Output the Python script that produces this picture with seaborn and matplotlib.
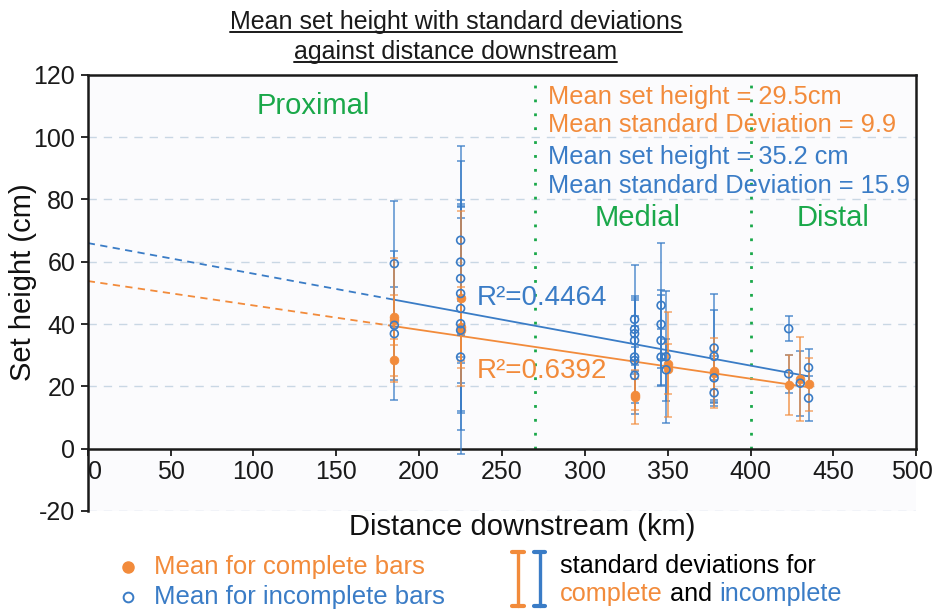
import numpy as np
import pandas as pd
import matplotlib
matplotlib.use('Agg')
import matplotlib.pyplot as plt
import matplotlib.transforms as mtransforms
from matplotlib.lines import Line2D
import seaborn as sns

# Means for complete bars (orange) with standard deviations
complete_km = [185, 185, 185, 225, 225, 225, 330, 330, 350, 350, 378, 378, 423, 430, 435]
complete_mean = [42.3, 41.2, 28.3, 48.2, 39.0, 38.0, 16.5, 17.3, 27.0, 25.5, 24.3, 25.0, 20.3, 22.4, 20.6]
complete_sd = [19.0, 8.0, 7.0, 28.0, 13.0, 10.0, 8.6, 5.0, 16.9, 8.0, 11.3, 6.0, 9.6, 13.5, 8.5]

# Means for incomplete bars (blue) with standard deviations
incomplete_km = [185, 185, 185,
                 225, 225, 225, 225, 225, 225, 225, 225,
                 330, 330, 330, 330, 330, 330, 330,
                 346, 346, 346, 346,
                 349, 349,
                 378, 378, 378, 378,
                 423, 423, 430, 435, 435]
incomplete_mean = [59.4, 39.6, 36.9,
                   66.9, 59.9, 54.6, 49.8, 45.0, 40.1, 38.0, 29.4,
                   41.5, 38.3, 36.9, 34.7, 29.4, 28.3, 23.5,
                   46.0, 39.9, 34.7, 29.4,
                   29.5, 25.3,
                   32.3, 29.6, 22.7, 17.9,
                   38.5, 24.0, 21.0, 26.0, 16.2]
incomplete_sd = [20.2, 24.0, 15.0,
                 30.3, 32.4, 25.2, 28.7, 32.8, 34.1, 39.7, 18.0,
                 17.4, 10.0, 12.0, 8.0, 18.2, 11.0, 9.0,
                 20.0, 11.0, 14.7, 9.0,
                 21.2, 10.0,
                 17.5, 15.0, 7.0, 4.1,
                 4.0, 6.0, 10.4, 6.0, 7.2]

# Linear fits (slope, intercept) and R² values
fit_complete = (-0.0784, 53.8)
fit_incomplete = (-0.0984, 66.0)
r2_complete = 0.6392
r2_incomplete = 0.4464
fit_start, fit_end = 185, 435

zone_bounds = [270, 400]

ORANGE = '#f28b3b'
BLUE = '#3a7cc6'
GREEN = '#1aa84a'
GRID = '#c9d7e4'
INK = '#1a1a1a'

sns.set_theme(style='white')
plt.rcParams['font.family'] = ['Liberation Sans', 'DejaVu Sans']
plt.rcParams['axes.unicode_minus'] = False

comp = pd.DataFrame({'km': complete_km, 'mean': complete_mean, 'sd': complete_sd})
inc = pd.DataFrame({'km': incomplete_km, 'mean': incomplete_mean, 'sd': incomplete_sd})

fig = plt.figure(figsize=(9.34, 6.14), dpi=100)
fig.patch.set_facecolor('white')
ax = fig.add_axes([0.094, 0.168, 0.887, 0.71])
ax.set_facecolor('#fbfbfd')

# grid
for y in [-20, 20, 40, 60, 80, 100]:
    ax.axhline(y, color=GRID, lw=1.0, dashes=(6, 5), zorder=0)

# zone boundaries
for xb in zone_bounds:
    ax.plot([xb, xb], [0, 120], color=GREEN, lw=2.0, dashes=(1, 4), zorder=1)

# error bars
ax.errorbar(inc['km'], inc['mean'], yerr=inc['sd'], fmt='none', ecolor=BLUE,
            elinewidth=1.1, capsize=3, capthick=1.1, alpha=0.85, zorder=3)
ax.errorbar(comp['km'], comp['mean'], yerr=comp['sd'], fmt='none', ecolor=ORANGE,
            elinewidth=1.3, capsize=3, capthick=1.1, alpha=0.75, zorder=4)

# means
sns.scatterplot(data=comp, x='km', y='mean', ax=ax, color=ORANGE, s=40,
                edgecolor=ORANGE, linewidth=0.5, zorder=5, legend=False)
sns.scatterplot(data=inc, x='km', y='mean', ax=ax, marker='o', s=32,
                facecolor='none', edgecolor=BLUE, linewidth=1.2, zorder=6, legend=False)

# trend lines
for (m, b), col in [(fit_incomplete, BLUE), (fit_complete, ORANGE)]:
    xs = np.array([0, fit_start])
    ax.plot(xs, m * xs + b, color=col, lw=1.3, dashes=(4, 3), zorder=2)
    xs = np.array([fit_start, fit_end])
    ax.plot(xs, m * xs + b, color=col, lw=1.3, zorder=2)

# text annotations
ax.text(136, 110, 'Proximal', color=GREEN, fontsize=21, ha='center', va='center')
ax.text(332, 74, 'Medial', color=GREEN, fontsize=21, ha='center', va='center')
ax.text(450, 74, 'Distal', color=GREEN, fontsize=21, ha='center', va='center')
ax.text(278, 113, 'Mean set height = 29.5cm', color=ORANGE, fontsize=18.3, va='center')
ax.text(278, 104, 'Mean standard Deviation = 9.9', color=ORANGE, fontsize=18.3, va='center')
ax.text(278, 93.6, 'Mean set height = 35.2 cm', color=BLUE, fontsize=18.3, va='center')
ax.text(278, 84.3, 'Mean standard Deviation = 15.9', color=BLUE, fontsize=18.3, va='center')
ax.text(235, 48.3, f'R²={r2_incomplete}', color=BLUE, fontsize=20, va='center')
ax.text(235, 24.8, f'R²={r2_complete}', color=ORANGE, fontsize=20, va='center')

# axes styling
ax.set_xlim(0, 500)
ax.set_ylim(-20, 120)
ax.set_xticks(range(0, 501, 50))
ax.set_yticks(range(-20, 121, 20))
for side in ['left', 'bottom', 'top', 'right']:
    ax.spines[side].set_color(INK)
    ax.spines[side].set_linewidth(1.8)
ax.spines['bottom'].set_position(('data', 0))
ax.spines['right'].set_bounds(0, 120)
ax.tick_params(axis='both', direction='out', length=5, width=1.3, color=INK,
               labelsize=18, labelcolor=INK, bottom=True, left=True)
ax.tick_params(axis='x', pad=3)
ax.tick_params(axis='y', pad=4)
xlabels = ax.get_xticklabels()
xlabels[0].set_horizontalalignment('left')
xlabels[-1].set_transform(xlabels[-1].get_transform() +
                          mtransforms.ScaledTranslation(-0.04, 0, fig.dpi_scale_trans))
ax.set_xlabel('Distance downstream (km)', fontsize=21, color='#111111')
ax.set_ylabel('Set height (cm)', fontsize=21, color='#111111')
ax.xaxis.set_label_coords(0.524, -0.005)
ax.yaxis.set_label_coords(-0.061, 0.525)

# title (underlined)
t1 = fig.text(0.488, 0.964, 'Mean set height with standard deviations', fontsize=18,
              ha='center', va='center', color=INK)
t2 = fig.text(0.488, 0.915, 'against distance downstream', fontsize=18,
              ha='center', va='center', color=INK)

# legend: means
fig.add_artist(Line2D([0.137], [0.077], marker='o', ls='none', color=ORANGE,
                      markersize=8, transform=fig.transFigure))
fig.add_artist(Line2D([0.137], [0.027], marker='o', ls='none', markerfacecolor='none',
                      markeredgecolor=BLUE, markeredgewidth=1.4, markersize=7,
                      transform=fig.transFigure))
fig.text(0.165, 0.077, 'Mean for complete bars', fontsize=18.5, color=ORANGE, va='center')
fig.text(0.165, 0.027, 'Mean for incomplete bars', fontsize=18.5, color=BLUE, va='center')

# legend: standard deviation bars
for xf, col in [(0.5546, ORANGE), (0.578, BLUE)]:
    fig.add_artist(Line2D([xf, xf], [0.013, 0.101], color=col, lw=2.4,
                          transform=fig.transFigure))
    for yc in [0.101, 0.013]:
        fig.add_artist(Line2D([xf - 0.006, xf + 0.006], [yc, yc], color=col, lw=3.0,
                              transform=fig.transFigure))
fig.text(0.5996, 0.078, 'standard deviations for', fontsize=18.2, color='black', va='center')

fig.canvas.draw()
renderer = fig.canvas.get_renderer()
xpos = 0.5996
for word, col in [('complete', ORANGE), (' and ', 'black'), ('incomplete', BLUE)]:
    t = fig.text(xpos, 0.032, word, fontsize=18.2, color=col, va='center')
    bb = t.get_window_extent(renderer).transformed(fig.transFigure.inverted())
    xpos = bb.x1

for t in [t1, t2]:
    bb = t.get_window_extent(renderer).transformed(fig.transFigure.inverted())
    fig.add_artist(Line2D([bb.x0, bb.x1], [bb.y0 + 0.003, bb.y0 + 0.003], color=INK,
                          lw=1.4, transform=fig.transFigure))

fig.savefig('out.png', dpi=100)
